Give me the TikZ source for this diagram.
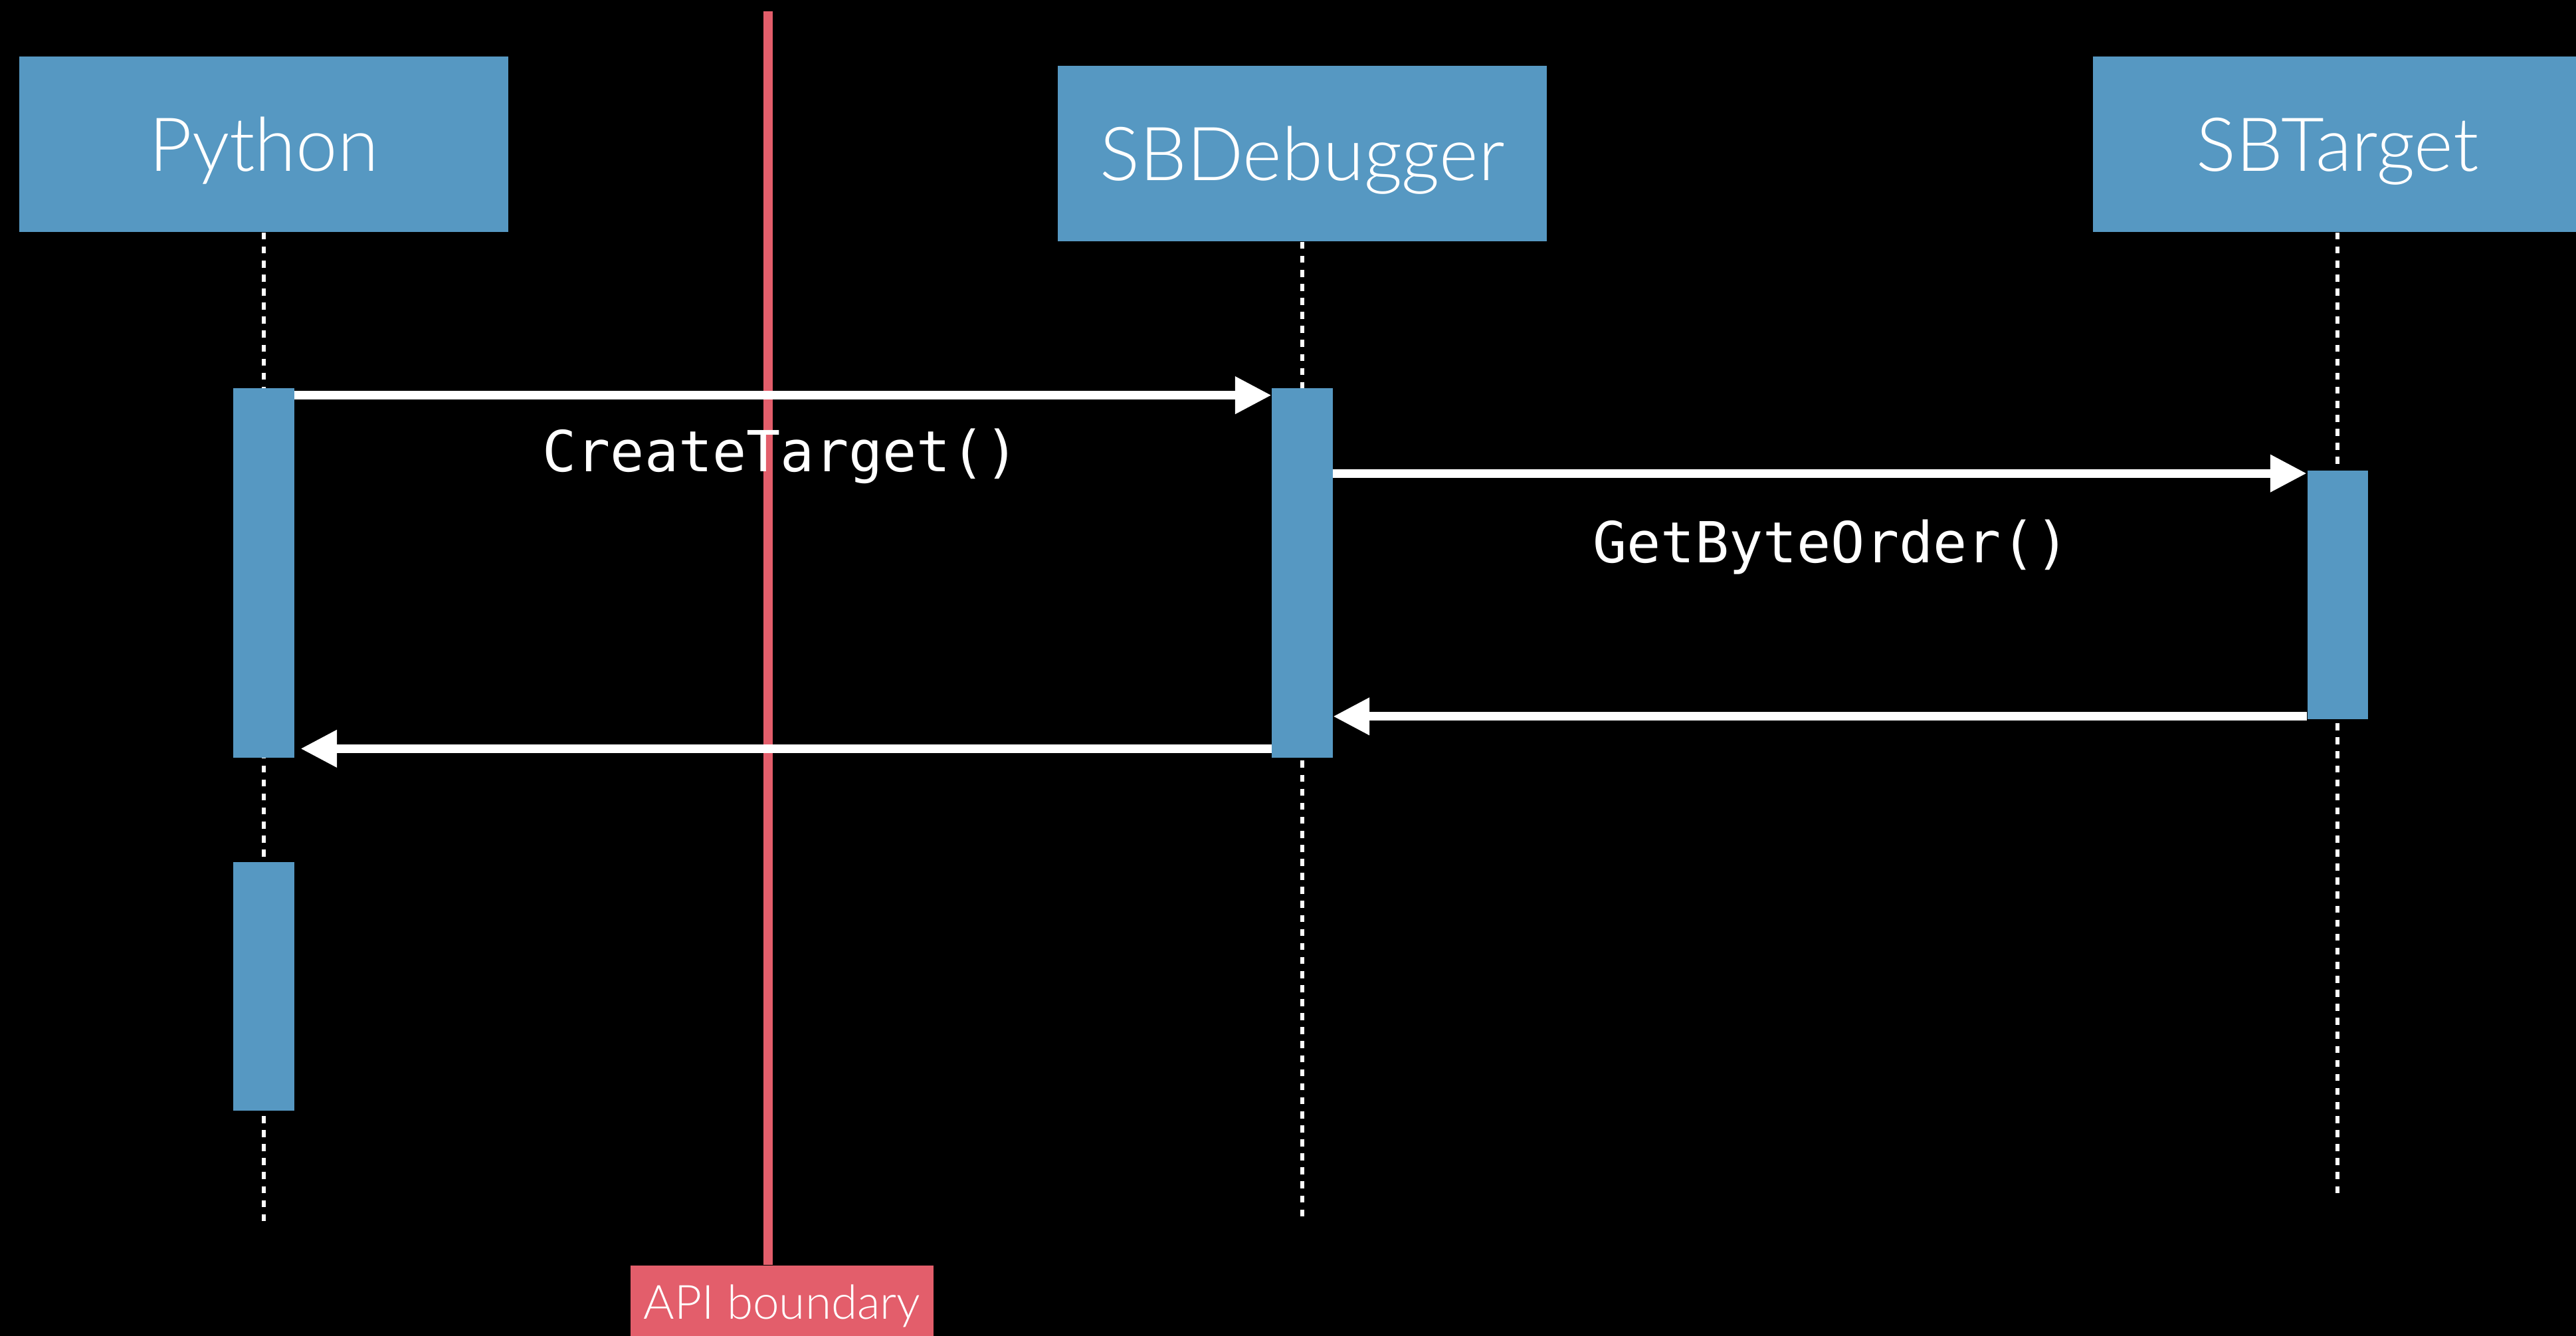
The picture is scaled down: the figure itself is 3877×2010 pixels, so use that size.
\documentclass[tikz,border=0pt]{standalone}
\usepackage{fontspec}
\setmainfont{Lato Light}
\newfontfamily\codefont{DejaVu Sans Mono}
\usetikzlibrary{positioning,arrows.meta}
\definecolor{lane}{RGB}{86,152,194}
\definecolor{border}{RGB}{227,94,107}

\begin{document}
\begin{tikzpicture}[x=0.01cm, y=-0.01cm, >={Triangle[length=15.6pt,width=15.1pt]},
			every node/.style={inner sep=0pt, text=white},
			head/.style={fill=lane, minimum width=7.35cm, minimum height=2.64cm, text depth=0pt, font=\fontsize{31.9}{38}\selectfont},
			act/.style={fill=lane, minimum width=0.91cm},
			life/.style={draw=white, line width=1.5pt, dash pattern=on 3pt off 3pt},
			msg/.style={->, draw=white, line width=3.7pt},
			call/.style={font=\codefont\fontsize{24.2}{29}\selectfont, anchor=base}]
			
			\useasboundingbox (0,0) rectangle (3877,2010);
			\clip (0,0) rectangle (3877,2010);
			\fill[black] (0,0) rectangle (3877,2010);
			
			\node[head] (P) at (397,217) {Python};
			\node[head] (D) at (1960,231) {SBDebugger};
			\node[head] (T) at (3518,217) {SBTarget};
			
			\coordinate (Pend) at (397,1837);
			\coordinate (Dend) at (1960,1837);
			\coordinate (Tend) at (3518,1805);
			\draw[life] (P.south) -- (Pend);
			\draw[life] (D.south) -- (Dend);
			\draw[life] (T.south) -- (Tend);
			
			\node[act, minimum height=5.55cm] (a1) at (397,862) {};
			\node[act, minimum height=3.74cm, below=1.56cm of a1] (a2) {};
			\node[act, minimum height=5.55cm] (b1) at (1960,862) {};
			\node[act, minimum height=3.74cm] (c1) at (3518,895) {};
			
			% API boundary
			\node[fill=border, minimum width=4.56cm, text height=0.51cm, text depth=0pt, inner ysep=0.30cm,
				anchor=north, font=\fontsize{20.2}{24}\selectfont] (A) at (1177,1903) {API boundary};
			\coordinate (top) at (1156,17);
			\draw[border, line width=4pt] (top) -- (top |- A.north);
			
			\coordinate (m1) at ([yshift=-0.11cm]a1.north east);
			\coordinate (m2) at ([yshift=-0.05cm]c1.north west);
			\coordinate (r2) at ([yshift=0.05cm]c1.south west);
			\coordinate (r1) at ([yshift=0.14cm]b1.south west);
			\draw[msg] (m1) -- (b1.west |- m1);
			\draw[msg] (b1.east |- m2) -- (m2);
			\draw[msg] (r2) -- (b1.east |- r2);
			\draw[msg, shorten >=0.09cm] (r1) -- (a1.east |- r1);
			
			\node[call] (l1) at (1175,710) {CreateTarget()};
			\node[call] (l2) at (2756,847) {GetByteOrder()};
	\end{tikzpicture}
\end{document}
